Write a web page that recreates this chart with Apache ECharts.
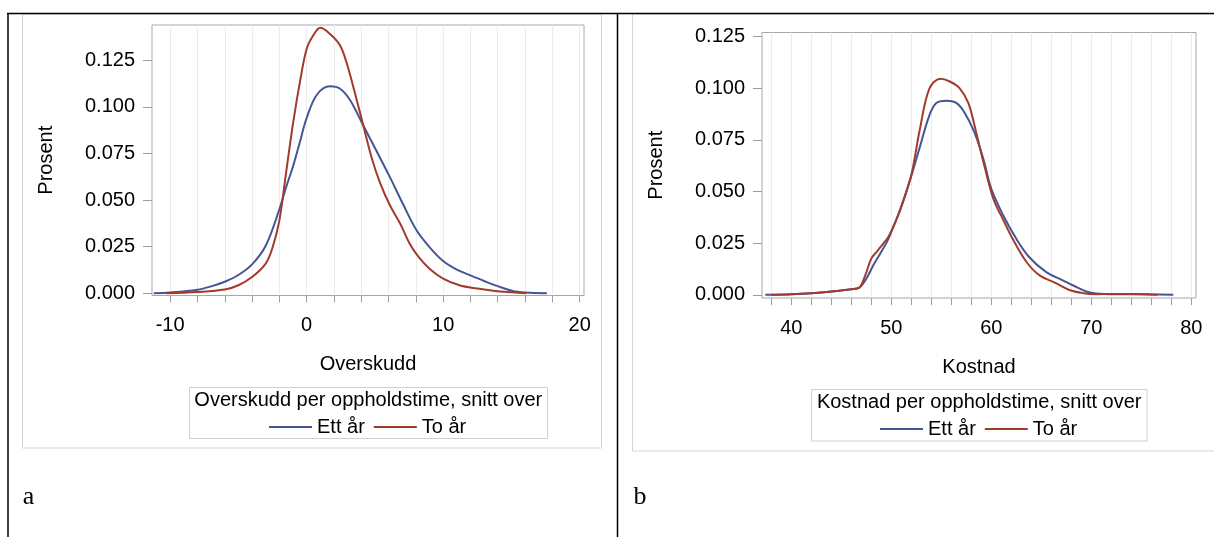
<!DOCTYPE html>
<html><head><meta charset="utf-8">
<script src="https://cdn.jsdelivr.net/npm/echarts@6/dist/echarts.min.js"></script>
<style>html,body{margin:0;padding:0;background:#fff}#c{width:1214px;height:537px}</style>
</head><body><div id="c"></div>
<script>
// ---------- data ----------
const seriesNames = ['Ett år', 'To år'];
const legendTitleA = 'Overskudd per oppholdstime, snitt over';
const legendTitleB = 'Kostnad per oppholdstime, snitt over';

// Panel a: Overskudd
const aEttX = [-11.2, -10, -8, -7, -6, -5, -4, -3, -2, -1.5, -1, -0.5, 0, 0.75, 1.7, 2.45, 3.2, 4.15, 5.1, 6.1, 7.1, 8.05, 9.0, 10.0, 11.0, 12.0, 13.0, 14.0, 15.1, 16.0, 17.6];
const aEttY = [0, 0.0004, 0.0019, 0.0037, 0.0062, 0.0098, 0.0155, 0.0255, 0.045, 0.057, 0.068, 0.081, 0.094, 0.1065, 0.111, 0.1097, 0.1034, 0.090, 0.0766, 0.0623, 0.0472, 0.0338, 0.0248, 0.0173, 0.0127, 0.0096, 0.0066, 0.0038, 0.0012, 0.0004, 0];
const aToX = [-10.3, -8, -6, -5, -4, -3, -2.5, -2, -1.5, -1, -0.5, 0, 0.5, 1.0, 1.7, 2.45, 2.95, 3.55, 4.15, 4.75, 5.4, 6.1, 6.85, 7.55, 8.2, 9.0, 10.0, 11.2, 12.5, 13.8, 15.0, 16.1];
const aToY = [0, 0.0007, 0.002, 0.0043, 0.0087, 0.0159, 0.0245, 0.039, 0.065, 0.091, 0.113, 0.131, 0.1385, 0.1424, 0.1392, 0.1329, 0.1231, 0.107, 0.090, 0.073, 0.0588, 0.0472, 0.0374, 0.0266, 0.0195, 0.0132, 0.0079, 0.0043, 0.0025, 0.0012, 0.0005, 0];

// Panel b: Kostnad
const bEttX = [37.4, 40, 42, 44, 46, 46.8, 47.5, 48.2, 48.9, 49.55, 50, 50.9, 52, 52.85, 53.8, 54.5, 55.5, 56.5, 57.3, 58.3, 59.2, 60, 61.2, 62.5, 63.8, 65.5, 67.2, 68.2, 69.5, 70.5, 72, 74, 76, 78.2];
const bEttY = [0, 0.0003, 0.0008, 0.0016, 0.0027, 0.0035, 0.0078, 0.0143, 0.0200, 0.0255, 0.0305, 0.0415, 0.0575, 0.0715, 0.0868, 0.0929, 0.094, 0.0929, 0.0884, 0.0788, 0.0659, 0.0513, 0.0384, 0.0271, 0.0182, 0.011, 0.0069, 0.0045, 0.0016, 0.0006, 0.0003, 0.0003, 0.0002, 0];
const bToX = [38.0, 40, 42, 44, 46, 46.8, 47.4, 48, 48.6, 49.2, 49.7, 50.3, 51, 52, 52.85, 53.8, 54.9, 55.8, 56.8, 57.7, 58.5, 59.3, 60.2, 61.2, 62.2, 63.5, 64.8, 66.5, 67.8, 69.2, 70.5, 72, 74, 76.6];
const bToY = [0, 0.0003, 0.0008, 0.0016, 0.0027, 0.0035, 0.0095, 0.0175, 0.0212, 0.0248, 0.0280, 0.0340, 0.0425, 0.058, 0.080, 0.0997, 0.1046, 0.1034, 0.1002, 0.0929, 0.0784, 0.0626, 0.0465, 0.0362, 0.0265, 0.016, 0.0095, 0.0055, 0.0023, 0.0008, 0.0003, 0.0004, 0.0004, 0];

// ticks
const xTicksA = [-10, -8, -6, -4, -2, 0, 2, 4, 6, 8, 10, 12, 14, 16, 18, 20];
const xLabelsA = [-10, 0, 10, 20];
const xTicksB = [38, 40, 42, 44, 46, 48, 50, 52, 54, 56, 58, 60, 62, 64, 66, 68, 70, 72, 74, 76, 78, 80];
const xLabelsB = [40, 50, 60, 70, 80];
const yTicks = [0, 0.025, 0.05, 0.075, 0.1, 0.125];

// ---------- build ----------
const zip = (xs, ys) => xs.map((x, i) => [x, ys[i]]);
const FONT = 'Liberation Sans, Arial, sans-serif';
const colors = ['#445694', '#A23A2E'];
const txt = {fontFamily: FONT, fontSize: 20, color: '#000'};

function xAxis(grid, min, max, ticks, labels, name) {
  return {
    gridIndex: grid, type: 'value', min: min, max: max, position: 'bottom',
    axisLine: {show: false, onZero: false},
    axisTick: {show: true, customValues: ticks, length: 7, lineStyle: {color: '#9a9ea6'}},
    axisLabel: Object.assign({customValues: labels, margin: 20, formatter: v => String(v)}, txt),
    splitLine: {show: true, lineStyle: {color: '#ececee', width: 1}},
    name: name, nameLocation: 'middle', nameGap: 59, nameTextStyle: txt
  };
}
function yAxis(grid, min, max) {
  return {
    gridIndex: grid, type: 'value', min: min, max: max, position: 'left',
    axisLine: {show: false, onZero: false},
    axisTick: {show: true, customValues: yTicks, length: 9, lineStyle: {color: '#9a9ea6'}},
    axisLabel: Object.assign({customValues: yTicks, margin: 17, formatter: v => v.toFixed(3)}, txt),
    splitLine: {show: false},
    name: 'Prosent', nameLocation: 'middle', nameGap: 96, nameTextStyle: txt
  };
}
function line(name, data, gi, ci) {
  return {
    type: 'line', name: name, xAxisIndex: gi, yAxisIndex: gi, data: data,
    showSymbol: false, smooth: 0.35,
    lineStyle: {color: colors[ci], width: 2}, itemStyle: {color: colors[ci]}
  };
}

const chart = echarts.init(document.getElementById('c'), null, {renderer: 'canvas'});
chart.setOption({
  animation: false,
  backgroundColor: '#fff',
  grid: [
    {left: 152, top: 25, width: 432, height: 270.5, show: true, borderColor: '#a4a8ae', borderWidth: 1, backgroundColor: 'transparent'},
    {left: 762, top: 32.5, width: 434, height: 265.5, show: true, borderColor: '#a4a8ae', borderWidth: 1, backgroundColor: 'transparent'}
  ],
  xAxis: [
    xAxis(0, -11.33, 20.32, xTicksA, xLabelsA, 'Overskudd'),
    xAxis(1, 37.07, 80.47, xTicksB, xLabelsB, 'Kostnad')
  ],
  yAxis: [
    yAxis(0, -0.0012, 0.1439),
    yAxis(1, -0.00155, 0.127)
  ],
  legend: [
    {left: 264, top: 412, icon: 'rect', itemWidth: 43, itemHeight: 2, itemGap: 9, data: seriesNames, textStyle: txt, selectedMode: false},
    {left: 875, top: 414, icon: 'rect', itemWidth: 43, itemHeight: 2, itemGap: 9, data: seriesNames, textStyle: txt, selectedMode: false}
  ],
  series: [
    line(seriesNames[0], zip(aEttX, aEttY), 0, 0),
    line(seriesNames[1], zip(aToX, aToY), 0, 1),
    line(seriesNames[0], zip(bEttX, bEttY), 1, 0),
    line(seriesNames[1], zip(bToX, bToY), 1, 1)
  ],
  graphic: [
    // panel frames
    {type: 'rect', shape: {x: 22.5, y: 14, width: 579, height: 434}, style: {fill: null, stroke: '#d4d4d4', lineWidth: 1}, silent: true},
    {type: 'rect', shape: {x: 632.5, y: 14, width: 590, height: 437}, style: {fill: null, stroke: '#d4d4d4', lineWidth: 1}, silent: true},
    // legend boxes
    {type: 'rect', shape: {x: 189.5, y: 387.5, width: 358, height: 51}, style: {fill: null, stroke: '#cfcfcf', lineWidth: 1}, silent: true},
    {type: 'rect', shape: {x: 811.5, y: 389.5, width: 335.5, height: 51.5}, style: {fill: null, stroke: '#cfcfcf', lineWidth: 1}, silent: true},
    {type: 'text', x: 368.3, y: 400, style: {text: legendTitleA, font: '20px ' + FONT, fill: '#000', textAlign: 'center', textVerticalAlign: 'middle'}},
    {type: 'text', x: 979.2, y: 402.4, style: {text: legendTitleB, font: '20px ' + FONT, fill: '#000', textAlign: 'center', textVerticalAlign: 'middle'}},
    // table lines
    {type: 'line', shape: {x1: 7, y1: 13.5, x2: 1214, y2: 13.5}, style: {stroke: '#000', lineWidth: 1.5}, silent: true},
    {type: 'line', shape: {x1: 8, y1: 13, x2: 8, y2: 537}, style: {stroke: '#000', lineWidth: 1.5}, silent: true},
    {type: 'line', shape: {x1: 617.5, y1: 13, x2: 617.5, y2: 537}, style: {stroke: '#000', lineWidth: 1.5}, silent: true},
    // panel letters
    {type: 'text', x: 28.5, y: 497, style: {text: 'a', font: '26px "Liberation Serif", "Times New Roman", serif', fill: '#000', textAlign: 'center', textVerticalAlign: 'middle'}},
    {type: 'text', x: 640, y: 497, style: {text: 'b', font: '26px "Liberation Serif", "Times New Roman", serif', fill: '#000', textAlign: 'center', textVerticalAlign: 'middle'}}
  ]
});
</script>
</body></html>
